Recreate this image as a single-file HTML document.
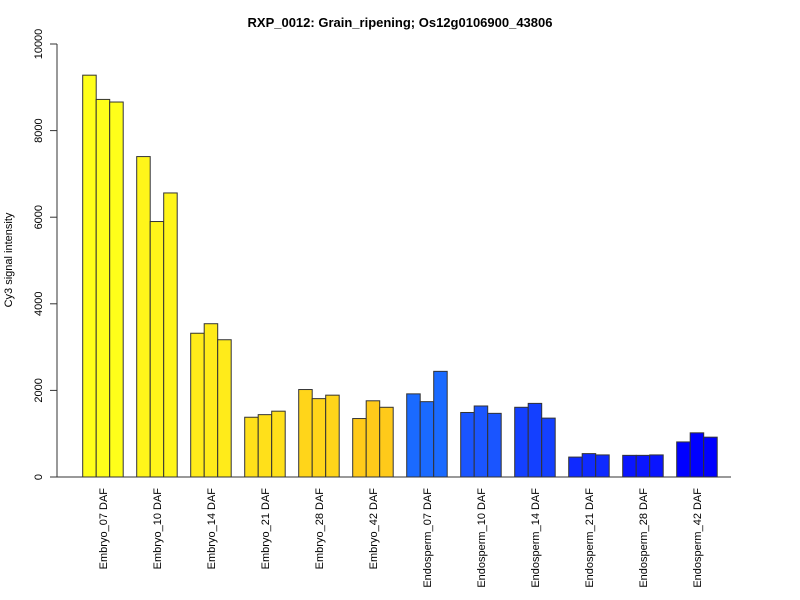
<!DOCTYPE html>
<html><head><meta charset="utf-8"><style>body{margin:0;background:#fff}svg{display:block;font-family:"Liberation Sans",sans-serif}</style></head>
<body>
<svg id="chart" width="800" height="600">
<text x="400" y="27" text-anchor="middle" font-size="13" font-weight="bold">RXP_0012: Grain_ripening; Os12g0106900_43806</text>
<text transform="translate(12,260) rotate(-90)" text-anchor="middle" font-size="11">Cy3 signal intensity</text>
<g id="yaxis"></g>
<g id="bars"></g>
<g id="xlabels"></g>
<line x1="57" y1="477" x2="731" y2="477" stroke="#333"/>
</svg>
<script>
const categories=["Embryo_07 DAF","Embryo_10 DAF","Embryo_14 DAF","Embryo_21 DAF","Embryo_28 DAF","Embryo_42 DAF","Endosperm_07 DAF","Endosperm_10 DAF","Endosperm_14 DAF","Endosperm_21 DAF","Endosperm_28 DAF","Endosperm_42 DAF"];
const rep1=[9280,7400,3320,1380,2020,1350,1920,1490,1610,460,500,810];
const rep2=[8720,5900,3540,1440,1810,1760,1740,1640,1700,540,500,1020];
const rep3=[8660,6560,3170,1520,1890,1610,2440,1470,1360,510,510,920];
const colors=["#ffff1a","#fff51a","#ffeb1a","#ffe01a","#ffd51a","#ffca1a","#1a6aff","#1a55ff","#1440ff","#0f2aff","#0a15ff","#0000ff"];
const yTicks=[0,2000,4000,6000,8000,10000];
const NS="http://www.w3.org/2000/svg";
const y=v=>477-v*(433/10000);
const bw=13.5, x0=82.7, pitch=54;
const bx=(g,r)=>x0+g*pitch+r*bw;
const ya=document.getElementById('yaxis');
let l=document.createElementNS(NS,'line');
l.setAttribute('x1',57);l.setAttribute('x2',57);l.setAttribute('y1',y(0));l.setAttribute('y2',y(10000));l.setAttribute('stroke','#333');


ya.appendChild(l);
yTicks.forEach(t=>{
  const tk=document.createElementNS(NS,'line');
  tk.setAttribute('x1',50);tk.setAttribute('x2',57);tk.setAttribute('y1',y(t));tk.setAttribute('y2',y(t));tk.setAttribute('stroke','#333');
  
  
  ya.appendChild(tk);
  const tx=document.createElementNS(NS,'text');
  tx.setAttribute('transform',`translate(42,${y(t)}) rotate(-90)`);tx.setAttribute('text-anchor','middle');tx.setAttribute('font-size','11');
  tx.textContent=t;
  
  
  ya.appendChild(tx);
});
const bg=document.getElementById('bars'), xl=document.getElementById('xlabels');
const reps=[rep1,rep2,rep3];
categories.forEach((c,g)=>{
  reps.forEach((rep,r)=>{
    const rc=document.createElementNS(NS,'rect');
    rc.setAttribute('x',bx(g,r));rc.setAttribute('width',bw);
    rc.setAttribute('y',y(rep[g]));rc.setAttribute('height',y(0)-y(rep[g]));
    rc.setAttribute('fill',colors[g]);rc.setAttribute('stroke','#333');rc.setAttribute('stroke-width','1');
    
    
    bg.appendChild(rc);
  });
  const tx=document.createElementNS(NS,'text');
  const cx=bx(g,1.5)+4;
  tx.setAttribute('transform',`translate(${cx},488) rotate(-90)`);tx.setAttribute('text-anchor','end');tx.setAttribute('font-size','11');
  tx.textContent=c;
  
  
  xl.appendChild(tx);
});
</script>
</body></html>
